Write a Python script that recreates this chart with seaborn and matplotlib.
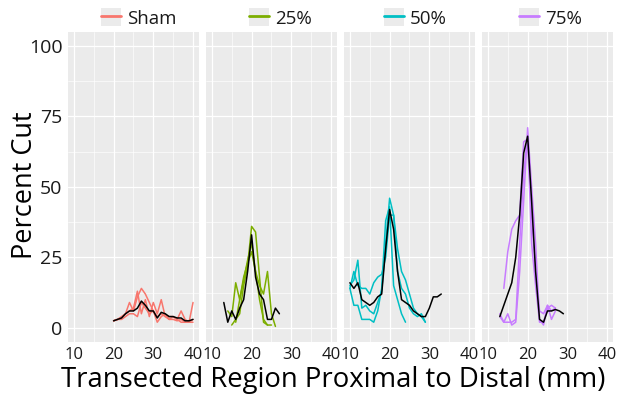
import matplotlib
matplotlib.use("Agg")
import matplotlib.pyplot as plt
from matplotlib.lines import Line2D
from matplotlib.patches import Patch
from matplotlib.legend_handler import HandlerTuple
from matplotlib.ticker import MultipleLocator
import pandas as pd
import seaborn as sns

# -- Data ----------------------------------------------------------------------

GROUPS = ["Sham", "25%", "50%", "75%"]
COLORS = ["#F8766D", "#7CAE00", "#00BFC4", "#C77CFF"]

SHAM_X = list(range(20, 41))
SHAM_REPS = [
    [2.5, 3, 3.5, 5, 9, 6, 11, 14, 12, 9, 6, 4, 5, 4, 3, 3, 2.5, 3, 2, 2, 9],
    [2.5, 3, 4, 5, 6, 7, 13, 5, 10, 4, 9, 5, 10, 4, 4, 4, 3, 6, 3, 2, 2],
    [2.5, 3, 3, 4, 5, 5, 4, 9, 7, 5, 6, 2, 4, 5, 3, 4, 3, 2, 2, 2, 3],
]
SHAM_MEAN_X = list(range(20, 41))
SHAM_MEAN = [2.5, 3, 3.5, 5, 6, 6, 7, 9.5, 8, 6, 6, 3.5, 5.5, 5, 4, 4, 3.5, 3.5, 2.5, 2.5, 3]

P25_REP_X = [
    list(range(15, 26)),
    list(range(14, 27)),
    list(range(16, 25)),
]
P25_REPS = [
    [1, 3, 5, 15, 22, 36, 34, 18, 2, 1, 1],
    [6, 4, 16, 10, 18, 23, 27, 20, 15, 12, 20, 5, 0.5],
    [2, 10, 17, 24, 30, 20, 10, 3, 1],
]
P25_MEAN_X = list(range(13, 28))
P25_MEAN = [9, 2, 6, 3, 7, 10, 20, 33, 18, 12, 10, 3, 3, 7, 5]

P50_REP_X = [
    list(range(10, 30)),
    list(range(10, 25)),
    list(range(10, 30)),
]
P50_REPS = [
    [15, 17, 24, 7, 8, 6, 5, 9, 13, 30, 46, 40, 20, 14, 12, 7, 5, 4, 5, 2],
    [14, 8, 8, 3, 3, 3, 2, 6, 14, 38, 43, 15, 10, 5, 2],
    [14, 20, 15, 14, 14, 12, 16, 18, 19, 25, 40, 40, 28, 20, 17, 12, 7, 5, 4, 2],
]
P50_MEAN_X = list(range(10, 34))
P50_MEAN = [16, 14, 16, 10, 9, 8, 9, 11, 12, 28, 42, 35, 20, 10, 9, 8, 6, 5, 4, 4, 7, 11, 11, 12]

P75_REP_X = [
    list(range(14, 28)),
    list(range(13, 28)),
    list(range(13, 28)),
]
P75_REPS = [
    [14, 27, 35, 38, 40, 66, 67, 40, 20, 6, 5, 8, 6, 7],
    [4, 2, 5, 1, 2, 20, 45, 71, 50, 30, 3, 1, 8, 3, 6],
    [5, 2, 2, 2, 3, 30, 55, 68, 30, 15, 2, 2, 7, 8, 7],
]
P75_MEAN_X = list(range(13, 30))
P75_MEAN = [4, 8, 12, 16, 25, 40, 62, 68, 45, 20, 3, 2, 6, 6, 6.5, 6, 5]

REP_X = [[SHAM_X] * 3, P25_REP_X, P50_REP_X, P75_REP_X]
REP_Y = [SHAM_REPS, P25_REPS, P50_REPS, P75_REPS]
MEAN_X = [SHAM_MEAN_X, P25_MEAN_X, P50_MEAN_X, P75_MEAN_X]
MEAN_Y = [SHAM_MEAN, P25_MEAN, P50_MEAN, P75_MEAN]

X_TICKS = [10, 20, 30, 40]
Y_TICKS = [0, 25, 50, 75, 100]


def build_frames():
    reps, means = [], []
    for g, xs_list, ys_list, mx, my in zip(GROUPS, REP_X, REP_Y, MEAN_X, MEAN_Y):
        for i, (xs, ys) in enumerate(zip(xs_list, ys_list)):
            reps.append(pd.DataFrame({"group": g, "rep": i, "x": xs, "y": ys}))
        means.append(pd.DataFrame({"group": g, "x": mx, "y": my}))
    return pd.concat(reps, ignore_index=True), pd.concat(means, ignore_index=True)


# -- Plot -----------------------------------------------------------------------

sns.set_theme(style="darkgrid", rc={
    "axes.facecolor": "#EBEBEB",
    "grid.color": "white",
    "axes.edgecolor": "#EBEBEB",
})
plt.rcParams["font.family"] = ["Open Sans", "DejaVu Sans"]

df_rep, df_mean = build_frames()

fig, axes = plt.subplots(1, 4, figsize=(6.23, 3.99), dpi=100, sharey=True)
fig.subplots_adjust(left=0.109, right=0.984, bottom=0.143, top=0.92, wspace=0.053)

for ax, g, c in zip(axes, GROUPS, COLORS):
    sub = df_rep[df_rep["group"] == g]
    sns.lineplot(data=sub, x="x", y="y", units="rep", estimator=None,
                 color=c, lw=1.1, ax=ax, legend=False)
    sns.lineplot(data=df_mean[df_mean["group"] == g], x="x", y="y",
                 color="black", lw=1.1, ax=ax, legend=False)
    ax.set_xlim(8.5, 41.5)
    ax.set_ylim(-5, 105)
    ax.set_xticks(X_TICKS)
    ax.set_yticks(Y_TICKS)
    ax.xaxis.set_minor_locator(MultipleLocator(5))
    ax.yaxis.set_minor_locator(MultipleLocator(12.5))
    ax.grid(which="major", color="white", lw=0.9)
    ax.grid(which="minor", color="white", lw=0.45)
    ax.tick_params(axis="both", which="major", length=2.5, width=0.6,
                   color="#555555", pad=1.5, labelcolor="#1a1a1a")
    ax.tick_params(axis="x", labelsize=12)
    ax.tick_params(axis="y", labelsize=14)
    ax.tick_params(which="minor", length=0)
    ax.set_xlabel("")
    ax.set_ylabel("")
    for s in ax.spines.values():
        s.set_visible(False)

fig.supylabel("Percent Cut", fontsize=19.5, x=0.018, y=0.535, color="black")
fig.supxlabel("Transected Region Proximal to Distal (mm)", fontsize=19.8,
              x=0.535, y=0.012, color="black")

handles = [(Patch(facecolor="#EBEBEB", edgecolor="none"),
            Line2D([], [], color=c, lw=2)) for c in COLORS]
fig.legend(handles, GROUPS, ncol=4, loc="center", bbox_to_anchor=(0.548, 0.955),
           frameon=False, fontsize=13.5, handlelength=1.07, handleheight=1.07,
           handletextpad=0.32, columnspacing=3.85, borderpad=0,
           labelcolor="#1a1a1a",
           handler_map={tuple: HandlerTuple(ndivide=1, pad=0)})

fig.savefig("out.png", dpi=100)
